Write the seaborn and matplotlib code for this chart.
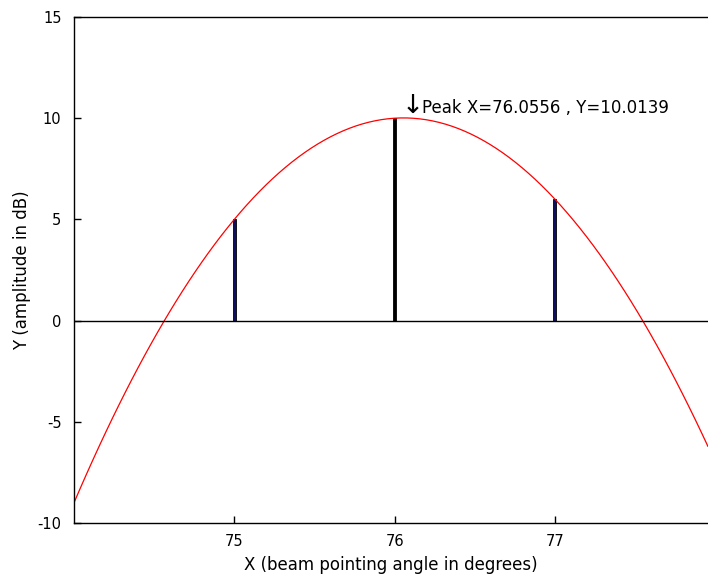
import numpy as np
import matplotlib
matplotlib.use('Agg')
import matplotlib.pyplot as plt
import seaborn as sns

# Measured beam amplitudes at three pointing angles
angles = [75, 76, 77]
amplitudes = [5, 10, 6]
bar_colors = ['#000070', '#000000', '#000070']
x_ticks = [75, 76, 77]
y_ticks = [-10, -5, 0, 5, 10, 15]

sns.set_style('ticks', {'xtick.direction': 'in', 'ytick.direction': 'in'})
plt.rcParams['font.family'] = ['DejaVu Sans']
plt.rcParams['axes.unicode_minus'] = False
plt.rcParams['text.color'] = 'black'
plt.rcParams['axes.labelcolor'] = 'black'
plt.rcParams['xtick.major.size'] = 5
plt.rcParams['ytick.major.size'] = 5

fig = plt.figure(figsize=(7.08, 5.8), dpi=100)
ax = fig.add_axes([74 / 708, 1 - 523 / 580, 634 / 708, 506 / 580])
ax.set_xlim(74.0, 77.955)
ax.set_ylim(-10, 15)

# Quadratic fit through the measurements, extended across the axis
sns.regplot(x=angles, y=amplitudes, order=2, ci=None, scatter=False,
            truncate=False, color='red', line_kws={'lw': 0.9}, ax=ax)

# Stems for measured amplitudes
sns.barplot(x=angles, y=amplitudes, hue=angles, palette=bar_colors,
            native_scale=True, width=0.018, edgecolor='black', linewidth=0.6,
            legend=False, ax=ax)

ax.axhline(0, color='black', lw=1)

# Peak of the fitted parabola
coef = np.polyfit(angles, amplitudes, 2)
peak_x = -coef[1] / (2 * coef[0])
peak_y = np.polyval(coef, peak_x)
ax.annotate('\u2193', (peak_x, peak_y), xytext=(-1, -1), textcoords='offset points',
            ha='left', va='bottom', fontsize=19)
ax.annotate('Peak X=%.4f , Y=%.4f' % (peak_x, peak_y), (peak_x, peak_y),
            xytext=(13, 1), textcoords='offset points',
            ha='left', va='bottom', fontsize=12)

ax.set_xticks(x_ticks)
ax.set_yticks(y_ticks)
ax.tick_params(bottom=True, left=True, top=False, right=False,
               direction='in', length=5, width=1, colors='black', labelsize=10.5)
ax.tick_params(axis='x', pad=8)
ax.tick_params(axis='y', pad=9)
ax.set_xlabel('X (beam pointing angle in degrees)', fontsize=12, labelpad=5)
ax.set_ylabel('Y (amplitude in dB)', fontsize=12, labelpad=5)

for side in ['left', 'bottom', 'top']:
    ax.spines[side].set_visible(True)
    ax.spines[side].set_color('black')
    ax.spines[side].set_linewidth(1)
ax.spines['right'].set_visible(False)

fig.savefig('out.png', dpi=100)
